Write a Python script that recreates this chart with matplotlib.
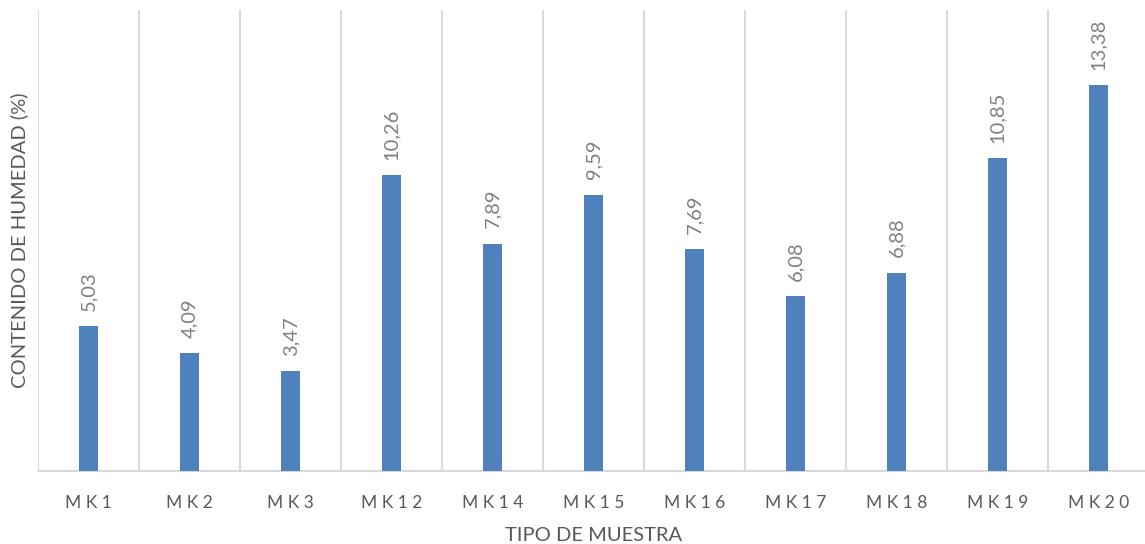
import matplotlib
matplotlib.use("Agg")
import matplotlib.pyplot as plt
import numpy as np

categories = ["MK1", "MK2", "MK3", "MK12", "MK14", "MK15", "MK16", "MK17", "MK18", "MK19", "MK20"]
humedad = [5.03, 4.09, 3.47, 10.26, 7.89, 9.59, 7.69, 6.08, 6.88, 10.85, 13.38]

plt.rcParams["font.family"] = ["Lato", "DejaVu Sans"]

fig = plt.figure(figsize=(11.45, 5.44), dpi=100)
ax = fig.add_axes([38 / 1145, 1 - 471 / 544, 1111 / 1145, 461 / 544])

x = np.arange(len(categories))
bars = ax.bar(x, humedad, width=0.18, color="#4F81BD", zorder=3)

for xi, v in zip(x, humedad):
    ax.annotate(f"{v:.2f}".replace(".", ","), (xi, v), xytext=(0, 11),
                textcoords="offset points", rotation=90, ha="center", va="bottom",
                fontsize=14.5, color="#808080")

ax.set_xlim(-0.5, len(categories) - 0.5)
ax.set_ylim(0, 16)

# category separators
ax.set_xticks(np.arange(-0.5, len(categories) - 0.5), minor=True)
ax.grid(True, which="minor", axis="x", color="#D9D9D9", linewidth=1.5, zorder=0)
ax.tick_params(axis="x", which="minor", length=0)

ax.set_xticks(x)
ax.set_xticklabels([" ".join(c) for c in categories], fontsize=12.5, color="#595959")
ax.tick_params(axis="x", which="major", length=0, pad=17)
ax.set_yticks([])

for s in ["top", "right", "left"]:
    ax.spines[s].set_visible(False)
ax.spines["bottom"].set_color("#D9D9D9")
ax.spines["bottom"].set_linewidth(1.5)

ax.set_ylabel("CONTENIDO DE HUMEDAD (%)", fontsize=14.5, color="#595959", labelpad=7)
ax.set_xlabel("TIPO DE MUESTRA", fontsize=14.5, color="#595959", labelpad=11.5)

fig.savefig("out.png", dpi=100)
